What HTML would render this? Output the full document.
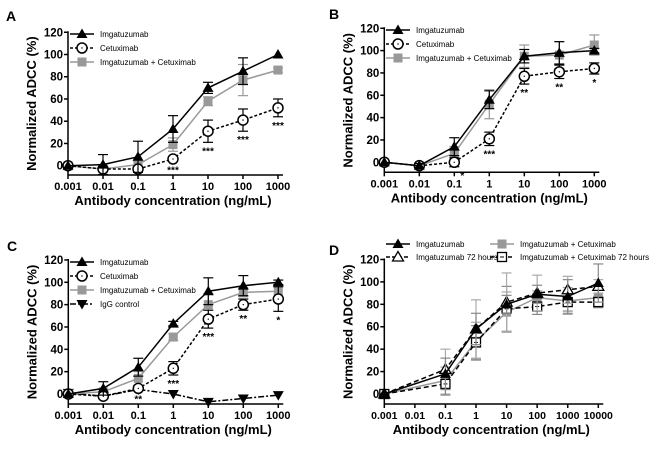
<!DOCTYPE html>
<html><head><meta charset="utf-8"><style>
body{margin:0;background:#fff}
svg{display:block;font-family:"Liberation Sans",Arial,sans-serif}
</style></head><body>
<svg id="c" width="650" height="449" viewBox="0 0 650 449" xmlns="http://www.w3.org/2000/svg"></svg>
<script>
// ---- data ----
const xA = [0.001,0.01,0.1,1,10,100,1000];
const xD = [0.001,0.1,1,10,100,1000,10000];
const tickX7 = ["0.001","0.01","0.1","1","10","100","1000"];
const tickXD = ["0.001","0.01","0.1","1","10","100","1000","10000"];
const tickY = [0,20,40,60,80,100,120];

const aImga = [0,1,8,33,70,85,100];
const aImgaErr = [0,9,14,12,5,12,0];
const aCetux = [0,-3,-3,6,31,41,52];
const aCetuxErr = [0,2,2,2,10,10,8];
const aCombo = [0,-3,1,19,58,77,86];
const aComboErr = [0,2,3,6,4,14,2];
const aStars = ["","","","***","***","***","***"];

const bImga = [0,-3,14,56,95,98,100];
const bImgaErr = [0,2,8,8,6,10,2];
const bCetux = [0,-3,0,21,77,81,84];
const bCetuxErr = [0,2,4,6,7,6,5];
const bCombo = [0,-3,8,52,95,96,105];
const bComboErr = [0,2,6,13,10,12,9];
const bStars = ["","","*","***","**","**","*"];

const cImga = [0,5,24,63,92,97,100];
const cImgaErr = [0,6,8,2,12,9,2];
const cCetux = [0,-2,5,23,67,80,85];
const cCetuxErr = [0,2,2,6,8,5,11];
const cCombo = [0,2,14,51,80,91,92];
const cComboErr = [0,2,6,3,10,4,5];
const cIgG = [1,-2,4,0,-7,-4,-1];
const cStars = ["","","**","***","***","**","*"];

const dImga = [0,18,58,80,89,87,99];
const dImgaErr = [0,14,14,8,8,15,17];
const dImga72 = [0,22,58,82,90,93,96];
const dImga72Err = [0,18,26,26,16,12,6];
const dCombo = [0,12,47,73,86,83,86];
const dComboErr = [0,12,17,18,6,12,8];
const dCombo72 = [0,9,46,76,78,82,82];
const dCombo72Err = [0,10,15,20,7,8,5];

const svg = document.getElementById('c');
const NS = 'http://www.w3.org/2000/svg';
function mk(tag, attrs, parent){
  const e = document.createElementNS(NS, tag);
  for (const k in attrs) e.setAttribute(k, attrs[k]);
  (parent||svg).appendChild(e);
  return e;
}

function marker(g, type, x, y, color){
  let e;
  if (type==='tri'){
    e = mk('path',{d:`M${x} ${y-5.5}L${x+5.5} ${y+4}L${x-5.5} ${y+4}Z`,fill:color},g);
  } else if (type==='triOpen'){
    e = mk('path',{d:`M${x} ${y-5.5}L${x+5.5} ${y+4}L${x-5.5} ${y+4}Z`,fill:'#fff',stroke:'#000','stroke-width':1.3},g);
  } else if (type==='circ'){
    e = mk('circle',{cx:x,cy:y,r:5,fill:'#fff',stroke:'#000','stroke-width':1.5},g);
    mk('circle',{cx:x,cy:y,r:0.7,fill:'#000'},g);
  } else if (type==='sq'){
    e = mk('rect',{x:x-4.5,y:y-4.5,width:9,height:9,fill:color},g);
  } else if (type==='sqOpen'){
    e = mk('rect',{x:x-4.5,y:y-4.5,width:9,height:9,fill:'#fff',stroke:'#000','stroke-width':1.3},g);
    mk('line',{x1:x-2,x2:x+2,y1:y,y2:y,stroke:'#000','stroke-width':1},g);
  } else if (type==='invtri'){
    e = mk('path',{d:`M${x} ${y+5.5}L${x+5.5} ${y-4}L${x-5.5} ${y-4}Z`,fill:color},g);
  }
  return e;
}

function panel(p){
  const g = mk('g',{});
  
  
  const decade = (p.x1 - p.x0) / (p.decades);
  const X = v => p.x0 + (Math.log10(v) + 3) * decade;
  const Y = v => p.y0 - v * p.ppu;
  const L = mk('text',{x:p.lx,y:p.ly,'font-size':14,'font-weight':'bold'},g);
  L.textContent = p.letter;
  
  
  const ax = mk('g',{stroke:'#000','stroke-width':1.5},g);
  
  
  mk('line',{x1:p.x0,x2:p.x0,y1:Y(120)-1,y2:p.axisY},ax);
  mk('line',{x1:p.x0,x2:p.x1+5,y1:p.axisY,y2:p.axisY},ax);
  tickY.forEach(t=>{
    mk('line',{x1:p.x0-4,x2:p.x0,y1:Y(t),y2:Y(t)},ax);
    const tx = mk('text',{x:p.x0-5,y:Y(t)+4,'font-size':11.5,'font-weight':'bold','text-anchor':'end'},g);
    tx.textContent = t;
    
    
  });
  p.ticks.forEach((t,i)=>{
    const xx = p.x0 + i*decade;
    mk('line',{x1:xx,x2:xx,y1:p.axisY,y2:p.axisY+4},ax);
    const tx = mk('text',{x:xx,y:p.axisY+15,'font-size':p.tickFont||11,'font-weight':'bold','text-anchor':'middle'},g);
    tx.textContent = t;
    
    
  });
  const xl = mk('text',{x:(p.x0+p.x1)/2,y:p.axisY+30,'font-size':13,'font-weight':'bold','text-anchor':'middle'},g);
  xl.textContent = 'Antibody concentration (ng/mL)';
  
  
  const yc = (Y(120)+p.axisY)/2;
  const yl = mk('text',{x:0,y:0,'font-size':13,'font-weight':'bold','text-anchor':'middle',transform:`translate(${p.x0-32},${yc}) rotate(-90)`},g);
  yl.textContent = 'Normalized ADCC (%)';
  
  
  p.series.forEach(s=>{
    const sg = mk('g',{},g);
    
    
    if (s.err) s.vals.forEach((v,i)=>{
      const e = s.err[i]; if (!e) return;
      const xx = X(p.xs[i]);
      mk('line',{x1:xx,x2:xx,y1:Y(v-e),y2:Y(v+e),stroke:s.errColor||s.color,'stroke-width':1.2},sg);
      mk('line',{x1:xx-5,x2:xx+5,y1:Y(v+e),y2:Y(v+e),stroke:s.errColor||s.color,'stroke-width':1.2},sg);
      mk('line',{x1:xx-5,x2:xx+5,y1:Y(v-e),y2:Y(v-e),stroke:s.errColor||s.color,'stroke-width':1.2},sg);
    });
    const pts = s.vals.map((v,i)=>X(p.xs[i]).toFixed(1)+','+Y(v).toFixed(1)).join(' ');
    mk('polyline',{points:pts,fill:'none',stroke:s.color,'stroke-width':1.5,'stroke-dasharray':s.dash||'none'},sg);
    s.vals.forEach((v,i)=>{
      const m = marker(sg, s.type, X(p.xs[i]), Y(v), s.color);
      
      
    });
  });
  if (p.stars) p.stars.forEach((st,i)=>{
    if (!st) return;
    const base = p.starRef[i];
    const err = p.starErr[i];
    const off = p.starOffX && p.starOffX[i] ? p.starOffX[i] : 0;
    const tx = mk('text',{x:X(p.xs[i])+off,y:Y(base-err)+12,'font-size':10,'font-weight':'bold','text-anchor':'middle'},g);
    tx.textContent = st;
    
    
  });
  p.legend.forEach(l=>{
    const lg = mk('g',{},g);
    
    
    mk('line',{x1:l.x-12,x2:l.x+12,y1:l.y,y2:l.y,stroke:l.color,'stroke-width':1.5,'stroke-dasharray':l.dash||'none'},lg);
    marker(lg,l.type,l.x,l.y,l.color);
    const t = mk('text',{x:l.x+18,y:l.y+3,'font-size':8},lg);
    t.textContent = l.text;
  });
}

const GR = '#999';
panel({name:'panel-a',letter:'A',lx:6,ly:21,x0:68,x1:278,decades:6,y0:165.7,ppu:1.112,axisY:175,xs:xA,ticks:tickX7,
  series:[
    {name:'series-imgatuzumab-cetuximab',vals:aCombo,err:aComboErr,color:GR,type:'sq'},
    {name:'series-cetuximab',vals:aCetux,err:aCetuxErr,color:'#000',type:'circ',dash:'3,2'},
    {name:'series-imgatuzumab',vals:aImga,err:aImgaErr,color:'#000',type:'tri'}],
  stars:aStars,starRef:aCetux,starErr:aCetuxErr,
  legend:[{x:82,y:34,color:'#000',type:'tri',text:'Imgatuzumab'},
          {x:82,y:48,color:'#000',type:'circ',dash:'3,2',text:'Cetuximab'},
          {x:82,y:62,color:GR,type:'sq',text:'Imgatuzumab + Cetuximab'}]});
panel({name:'panel-b',letter:'B',lx:329,ly:19,x0:384.3,x1:594.3,decades:6,y0:162.3,ppu:1.117,axisY:172.3,xs:xA,ticks:tickX7,
  series:[
    {name:'series-imgatuzumab-cetuximab',vals:bCombo,err:bComboErr,color:GR,type:'sq'},
    {name:'series-cetuximab',vals:bCetux,err:bCetuxErr,color:'#000',type:'circ',dash:'3,2'},
    {name:'series-imgatuzumab',vals:bImga,err:bImgaErr,color:'#000',type:'tri'}],
  stars:bStars,starRef:bCetux,starErr:bCetuxErr,starOffX:[0,0,8,0,0,0,0],
  legend:[{x:398,y:30,color:'#000',type:'tri',text:'Imgatuzumab'},
          {x:398,y:44,color:'#000',type:'circ',dash:'3,2',text:'Cetuximab'},
          {x:398,y:58,color:GR,type:'sq',text:'Imgatuzumab + Cetuximab'}]});
panel({name:'panel-c',letter:'C',lx:7,ly:251,x0:68.3,x1:278.3,decades:6,y0:394,ppu:1.117,axisY:404,xs:xA,ticks:tickX7,
  series:[
    {name:'series-igg-control',vals:cIgG,color:'#000',type:'invtri',dash:'6,2,2,2'},
    {name:'series-imgatuzumab-cetuximab',vals:cCombo,err:cComboErr,color:GR,type:'sq'},
    {name:'series-cetuximab',vals:cCetux,err:cCetuxErr,color:'#000',type:'circ',dash:'3,2'},
    {name:'series-imgatuzumab',vals:cImga,err:cImgaErr,color:'#000',type:'tri'}],
  stars:cStars,starRef:cCetux,starErr:cCetuxErr,
  legend:[{x:82,y:262,color:'#000',type:'tri',text:'Imgatuzumab'},
          {x:82,y:276,color:'#000',type:'circ',dash:'3,2',text:'Cetuximab'},
          {x:82,y:290,color:GR,type:'sq',text:'Imgatuzumab + Cetuximab'},
          {x:82,y:304,color:'#000',type:'invtri',dash:'6,2,2,2',text:'IgG control'}]});
panel({name:'panel-d',letter:'D',lx:329,ly:255,x0:384.3,x1:598.3,decades:7,y0:394,ppu:1.121,axisY:404,xs:xD,ticks:tickXD,tickFont:10.5,
  series:[
    {name:'series-imgatuzumab-cetuximab',vals:dCombo,err:dComboErr,color:GR,type:'sq',errColor:'#aaa'},
    {name:'series-imgatuzumab-cetuximab-72h',vals:dCombo72,err:dCombo72Err,color:'#000',type:'sqOpen',dash:'5,3',errColor:'#888'},
    {name:'series-imgatuzumab-72h',vals:dImga72,err:dImga72Err,color:'#000',type:'triOpen',dash:'5,3',errColor:'#aaa'},
    {name:'series-imgatuzumab',vals:dImga,err:dImgaErr,color:'#000',type:'tri',errColor:'#888'}],
  legend:[{x:398,y:244,color:'#000',type:'tri',text:'Imgatuzumab'},
          {x:398,y:257,color:'#000',type:'triOpen',dash:'4,2',text:'Imgatuzumab 72 hours'},
          {x:502,y:244,color:GR,type:'sq',text:'Imgatuzumab + Cetuximab'},
          {x:502,y:257,color:'#000',type:'sqOpen',dash:'4,2',text:'Imgatuzumab + Cetuximab 72 hours'}]});
</script>
</body></html>
